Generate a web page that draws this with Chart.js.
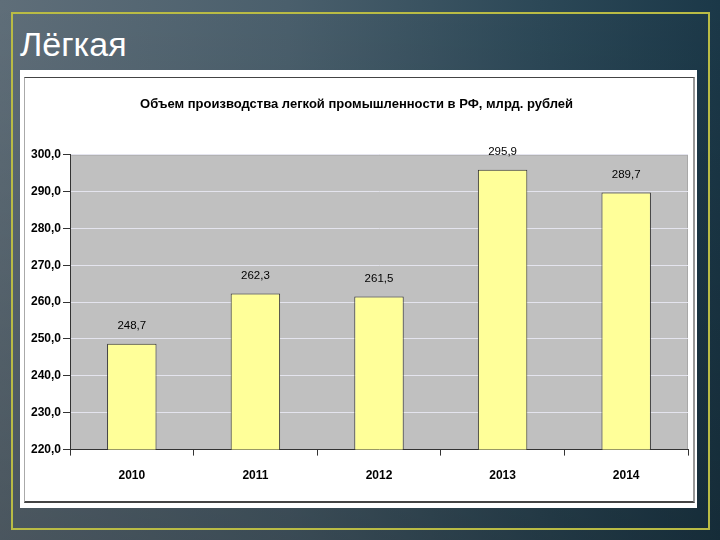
<!DOCTYPE html>
<html>
<head>
<meta charset="utf-8">
<script src="https://cdn.jsdelivr.net/npm/chart.js@4.4.1/dist/chart.umd.min.js"></script>
<style>
html,body{margin:0;padding:0;}
body{width:720px;height:540px;overflow:hidden;position:relative;
 background:linear-gradient(to bottom, rgba(0,0,0,0) 0%, rgba(0,0,0,0.22) 100%),
 linear-gradient(to right,#5f6e79 0%,#4a5f6c 40%,#2c4857 75%,#1b3848 100%);
 font-family:'Liberation Sans',Arial,sans-serif;}
#frame{position:absolute;left:11px;top:12px;width:695px;height:514px;border:2px solid #b9bb45;}
#slideTitle{position:absolute;left:20px;top:24px;color:#fff;font-size:34px;line-height:40px;}
#panel{position:absolute;left:20px;top:70px;width:677px;height:438px;background:#fff;}
#inner{position:absolute;left:4px;top:7px;width:668px;height:423px;border-top:1px solid #444;border-bottom:2px solid #444;border-left:1px solid #aaa;border-right:2px solid #999;}
canvas{display:block;}
</style>
</head>
<body>
<div id="frame"></div>
<div id="slideTitle">Лёгкая</div>
<div id="panel"><div id="inner"><canvas id="c" width="668" height="423"></canvas></div></div>
<script>
const chartTitle = 'Объем производства легкой промышленности в РФ, млрд. рублей';
const years = ['2010','2011','2012','2013','2014'];
const volumes = [248.7, 262.3, 261.5, 295.9, 289.7];
const yMin = 220, yMax = 300, yStep = 10;

const fmt = v => v.toFixed(1).replace('.', ',');
const FONT = "'Liberation Sans', Arial, sans-serif";

const plotBg = {
  id:'plotBg',
  beforeDraw(chart){
    const {ctx, chartArea:a} = chart;
    ctx.save();
    ctx.fillStyle = '#c0c0c0';
    ctx.fillRect(a.left, a.top, a.right-a.left, a.bottom-a.top);
    ctx.strokeStyle = '#a8a8a8';
    ctx.lineWidth = 1;
    ctx.beginPath();
    ctx.moveTo(a.left, a.top+0.5); ctx.lineTo(a.right-0.5, a.top+0.5); ctx.lineTo(a.right-0.5, a.bottom);
    ctx.stroke();
    ctx.restore();
  }
};
const valueLabels = {
  id:'valueLabels',
  afterDatasetsDraw(chart){
    const {ctx} = chart;
    const meta = chart.getDatasetMeta(0);
    ctx.save();
    ctx.font = '11.5px ' + FONT;
    ctx.fillStyle = '#000';
    ctx.textAlign = 'center';
    ctx.textBaseline = 'bottom';
    meta.data.forEach((bar, i) => {
      ctx.fillText(fmt(chart.data.datasets[0].data[i]), bar.x, bar.y - 12);
    });
    ctx.restore();
  }
};

new Chart(document.getElementById('c'), {
  type:'bar',
  data:{
    labels: years,
    datasets:[{
      data: volumes,
      backgroundColor:'#ffff99',
      borderColor:'#333333',
      borderWidth:1,
      borderSkipped:'bottom',
      barPercentage:0.4,
      categoryPercentage:1
    }]
  },
  options:{
    responsive:false,
    animation:false,
    devicePixelRatio:1,
    layout:{padding:{left:0,right:5,top:0,bottom:5}},
    plugins:{
      legend:{display:false},
      tooltip:{enabled:false},
      title:{display:true,text:chartTitle,color:'#000',
        font:{family:FONT,size:13,weight:'bold'},padding:{top:19,bottom:42}}
    },
    scales:{
      x:{
        grid:{display:true,drawOnChartArea:false,drawTicks:true,offset:true,tickLength:6,tickColor:'#333'},
        border:{display:true,color:'#333',width:1},
        ticks:{color:'#000',font:{family:FONT,size:12,weight:'bold'},padding:13}
      },
      y:{
        min:yMin,max:yMax,
        afterFit(s){ s.width = 45; },
        grid:{color:'#e4e4ee',lineWidth:1,tickLength:7,tickColor:'#333'},
        border:{display:true,color:'#333',width:1},
        ticks:{stepSize:yStep,color:'#000',font:{family:FONT,size:12,weight:'bold'},padding:2,
          callback:v=>fmt(v)}
      }
    }
  },
  plugins:[plotBg, valueLabels]
});
</script>
</body>
</html>
